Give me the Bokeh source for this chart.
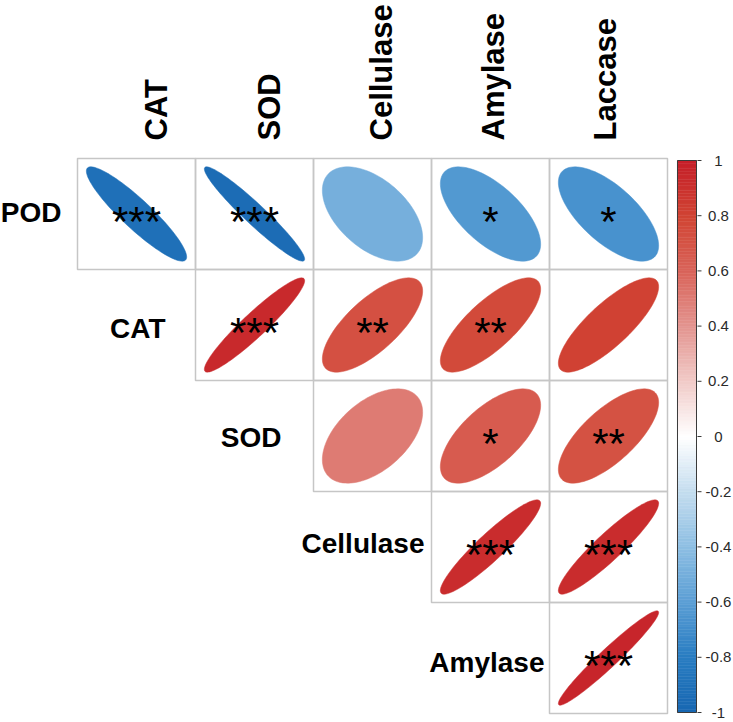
import numpy as np
from bokeh.plotting import figure
from bokeh.models import ColumnDataSource, Range1d
from bokeh.transform import linear_cmap
from bokeh.core.properties import value
from bokeh.embed import file_html
from bokeh.resources import INLINE

# ---------------- data ----------------
row_names = ["POD", "CAT", "SOD", "Cellulase", "Amylase"]
col_names = ["CAT", "SOD", "Cellulase", "Amylase", "Laccase"]

# upper-triangle correlations (row i, columns i..4)
corr_pod = [-0.91, -0.955, -0.50, -0.64, -0.67]
corr_cat = [0.94, 0.72, 0.76, 0.81]
corr_sod = [0.50, 0.65, 0.71]
corr_cellulase = [0.925, 0.925]
corr_amylase = [0.965]

sig_pod = ["***", "***", "", "*", "*"]
sig_cat = ["***", "**", "**", ""]
sig_sod = ["", "*", "**"]
sig_cellulase = ["***", "***"]
sig_amylase = ["***"]

cbar_ticks = [-1, -0.8, -0.6, -0.4, -0.2, 0, 0.2, 0.4, 0.6, 0.8, 1]
cbar_labels = ["-1", "-0.8", "-0.6", "-0.4", "-0.2", "0", "0.2", "0.4", "0.6", "0.8", "1"]

corr_rows = [corr_pod, corr_cat, corr_sod, corr_cellulase, corr_amylase]
sig_rows = [sig_pod, sig_cat, sig_sod, sig_cellulase, sig_amylase]

# ---------------- style ----------------
anchors_v = [-1.0, -0.8, -0.6, -0.4, -0.2, 0.0, 0.2, 0.4, 0.6, 0.8, 1.0]
anchors_c = ["#1868b2", "#2a7dc2", "#5c9fd5", "#8ebfe3", "#c5ddef", "#ffffff",
             "#f1cbc8", "#e39590", "#d9645a", "#d14534", "#c51f29"]

def hex2rgb(h):
    h = h.lstrip("#")
    return [int(h[k:k + 2], 16) for k in (0, 2, 4)]

rgb = np.array([hex2rgb(c) for c in anchors_c], dtype=float)
vv = np.linspace(-1, 1, 200)
palette = []
for v in vv:
    r = np.interp(v, anchors_v, rgb[:, 0])
    g = np.interp(v, anchors_v, rgb[:, 1])
    b = np.interp(v, anchors_v, rgb[:, 2])
    palette.append("#%02x%02x%02x" % (int(round(r)), int(round(g)), int(round(b))))

FONT = value("Liberation Sans")
n = len(row_names)
ELL = 0.85

p = figure(width=733, height=722, output_backend="svg", toolbar_location=None,
           x_range=Range1d(-0.65254, 5.55932), y_range=Range1d(-0.081081, 6.42342),
           x_axis_location=None, y_axis_location=None, title=None,
           min_border=0, outline_line_color=None)
p.grid.visible = False
p.background_fill_color = "white"
p.extra_y_ranges = {"cb": Range1d(-1.03623, 1.57971)}

# cells
cx, cy, rr, ss, exs, eys = [], [], [], [], [], []
t = np.linspace(0, 2 * np.pi, 100)
for i in range(n):
    for k, r in enumerate(corr_rows[i]):
        j = i + k
        x0 = j + 0.5
        y0 = (n - 1 - i) + 0.5
        cx.append(x0)
        cy.append(y0)
        rr.append(r)
        ss.append(sig_rows[i][k])
        d = np.arccos(r)
        exs.append(list(x0 + ELL * np.cos(t + d / 2) / 2))
        eys.append(list(y0 + ELL * np.cos(t - d / 2) / 2))

cells = ColumnDataSource(dict(x=cx, y=cy, r=rr, s=ss, xs=exs, ys=eys))

p.rect(x="x", y="y", width=1, height=1, source=cells, fill_color=None,
       line_color="#c6c6c6", line_width=1.5)
p.patches(xs="xs", ys="ys", source=cells,
          fill_color=linear_cmap("r", palette, -1, 1),
          line_color=linear_cmap("r", palette, -1, 1), line_width=0.5)
p.text(x="x", y="y", text="s", source=cells, text_align="center",
       text_baseline="middle", y_offset=7.5, text_font=FONT,
       text_font_size=value("42px"), text_color="black")

# column labels (rotated, top)
col_dx = [20, 15, 9, 3, -3]
p.text(x=[j + 0.5 for j in range(n)], y=[n] * n, text=col_names, angle=np.pi / 2,
       text_align="left", text_baseline="middle", x_offset=col_dx, y_offset=-18,
       text_font=FONT, text_font_style="bold", text_font_size=value("31px"),
       text_color="black")

# row labels (diagonal staircase)
row_dx = [-16, -30, -32, -7, -5]
row_dy = [-1.5, 3.5, 1.5, -3, 4.5]
p.text(x=[i for i in range(n)], y=[(n - 1 - i) + 0.5 for i in range(n)], text=row_names,
       text_align="right", text_baseline="middle", x_offset=row_dx, y_offset=row_dy,
       text_font=FONT, text_font_style="bold", text_font_size=value("28px"),
       text_color="black")

# colour bar
cb_x0, cb_x1 = 5.0847, 5.2458
edges = np.linspace(-1, 1, 201)
cbs = ColumnDataSource(dict(b=edges[:-1], t=edges[1:], v=(edges[:-1] + edges[1:]) / 2))
p.quad(left=cb_x0, right=cb_x1, bottom="b", top="t", source=cbs, y_range_name="cb",
       fill_color=linear_cmap("v", palette, -1, 1),
       line_color=linear_cmap("v", palette, -1, 1), line_width=0.5)
p.quad(left=[cb_x0], right=[cb_x1], bottom=[-1], top=[1], y_range_name="cb",
       fill_color=None, line_color="#3a3a3a", line_width=1)
p.segment(x0=5.2542, x1=5.2881, y0=cbar_ticks, y1=cbar_ticks, y_range_name="cb",
          line_color="#3a3a3a", line_width=1)
p.text(x=[5.4322] * len(cbar_ticks), y=cbar_ticks, text=cbar_labels, y_range_name="cb",
       text_align="center", text_baseline="middle", text_font=FONT,
       text_font_size=value("15px"), text_color="#2a2a2a")

open("out.html", "w").write(file_html(p, INLINE))
